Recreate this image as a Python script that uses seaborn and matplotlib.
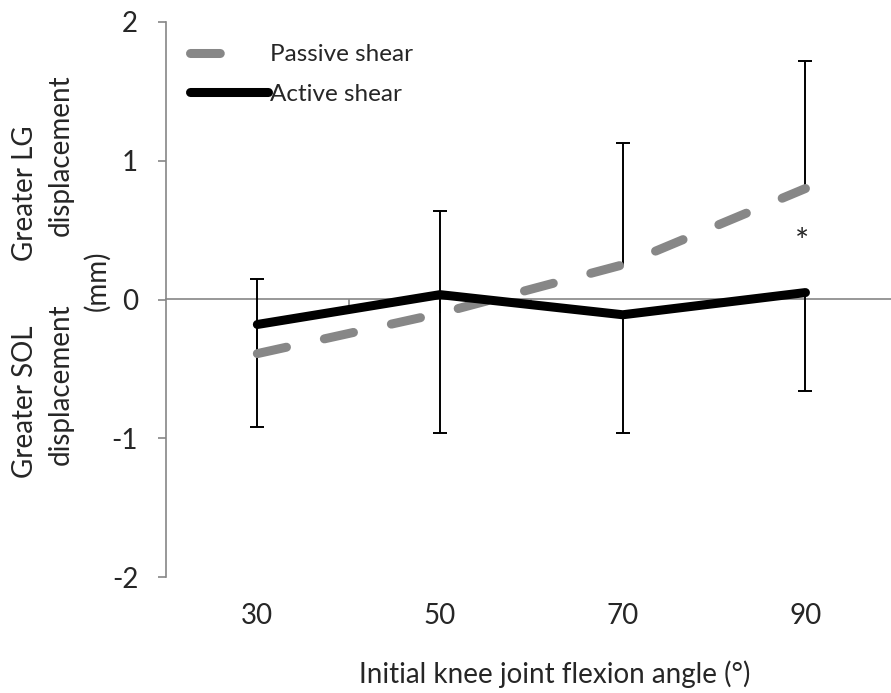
import matplotlib
matplotlib.use("Agg")
import matplotlib.pyplot as plt
import seaborn as sns
import numpy as np
import pandas as pd

# ---- data ----
angles = [30, 50, 70, 90]
tick_labels = ["30", "50", "70", "90"]
passive = [-0.39, -0.10, 0.25, 0.80]
active = [-0.18, 0.035, -0.11, 0.05]
passive_err_up = [0.54, 0.74, 0.88, 0.92]
active_err_down = [0.74, 1.00, 0.85, 0.71]
y_ticks = [-2, -1, 0, 1, 2]

sns.set_theme(style="white")
plt.rcParams['font.family'] = ['Lato', 'DejaVu Sans']

GRAY = "#878787"
AXGRAY = "#868686"
FS = 20
W, H = 891, 693

fig = plt.figure(figsize=(W/100, H/100), dpi=100)
ax = fig.add_axes([166/W, 1-577/H, 1-166/W, (577-22)/H])

df = pd.DataFrame({"angle": angles, "passive": passive, "active": active})

# error bars (passive upward, active downward)
p = np.array(passive); a = np.array(active)
pu = p + np.array(passive_err_up)
ad = a - np.array(active_err_down)
ax.vlines(angles, p, pu, color="black", lw=1.4, zorder=2)
ax.vlines(angles, ad, a, color="black", lw=1.4, zorder=2)
ax.scatter(angles, pu, marker="_", s=90, color="black", linewidths=1.4, zorder=2)
ax.scatter(angles, ad, marker="_", s=90, color="black", linewidths=1.4, zorder=2)

sns.lineplot(data=df, x="angle", y="passive", ax=ax, color=GRAY, lw=6.5,
             linestyle=(0, (3.3, 4.3)), dash_capstyle="round",
             solid_capstyle="round", label="Passive shear", zorder=3)
sns.lineplot(data=df, x="angle", y="active", ax=ax, color="black", lw=6.5,
             solid_capstyle="round", solid_joinstyle="miter",
             label="Active shear", zorder=4)

ax.set_xlim(20, 20 + 725/182.7*20)
ax.set_ylim(-2, 2)
ax.set_yticks(y_ticks)
ax.set_yticklabels([str(t) for t in y_ticks], fontsize=FS)
ax.set_xticks(angles)
ax.set_xticklabels(tick_labels, fontsize=FS)
ax.tick_params(axis="x", length=0, pad=19)
ax.tick_params(axis="y", length=6, width=1.2, color=AXGRAY, direction="out", pad=14, left=True)
for s in ["top", "right", "bottom"]:
    ax.spines[s].set_visible(False)
ax.spines["left"].set_color(AXGRAY)
ax.spines["left"].set_linewidth(1.2)
ax.set_xlabel("Initial knee joint flexion angle (°)", fontsize=FS)
ax.xaxis.label.set_va("center")
ax.xaxis.set_label_coords((555-166)/725, -(674-577)/555)
ax.set_ylabel("")

# zero axis with category-boundary ticks (pointing down)
sec = ax.secondary_xaxis(0.5)
sec.set_xticks([40, 60, 80])
sec.set_xticklabels([])
sec.tick_params(axis="x", length=5, width=1.2, color=AXGRAY, direction="in")
for sp in sec.spines.values():
    sp.set_color(AXGRAY)
    sp.set_linewidth(1.2)

ax.text(89.6, 0.41, "*", fontsize=24, ha="center", va="center")

leg = ax.legend(loc="upper left", bbox_to_anchor=(24/725, (577-44)/555), frameon=False,
                fontsize=17.5, handlelength=3.2, handletextpad=0.08,
                labelspacing=0.78, borderpad=0, borderaxespad=0)
leg.get_lines()[0].set_linestyle((0, (3.3, 30)))

def ytext(x, y, s):
    fig.text(x/W, 1-y/H, s, rotation=90, ha="center", va="center", fontsize=FS)

ytext(25, 193, "Greater LG")
ytext(61, 155, "displacement")
ytext(97, 281, "(mm)")
ytext(25, 402, "Greater SOL")
ytext(61, 384, "displacement")

fig.savefig("out.png", dpi=100)
